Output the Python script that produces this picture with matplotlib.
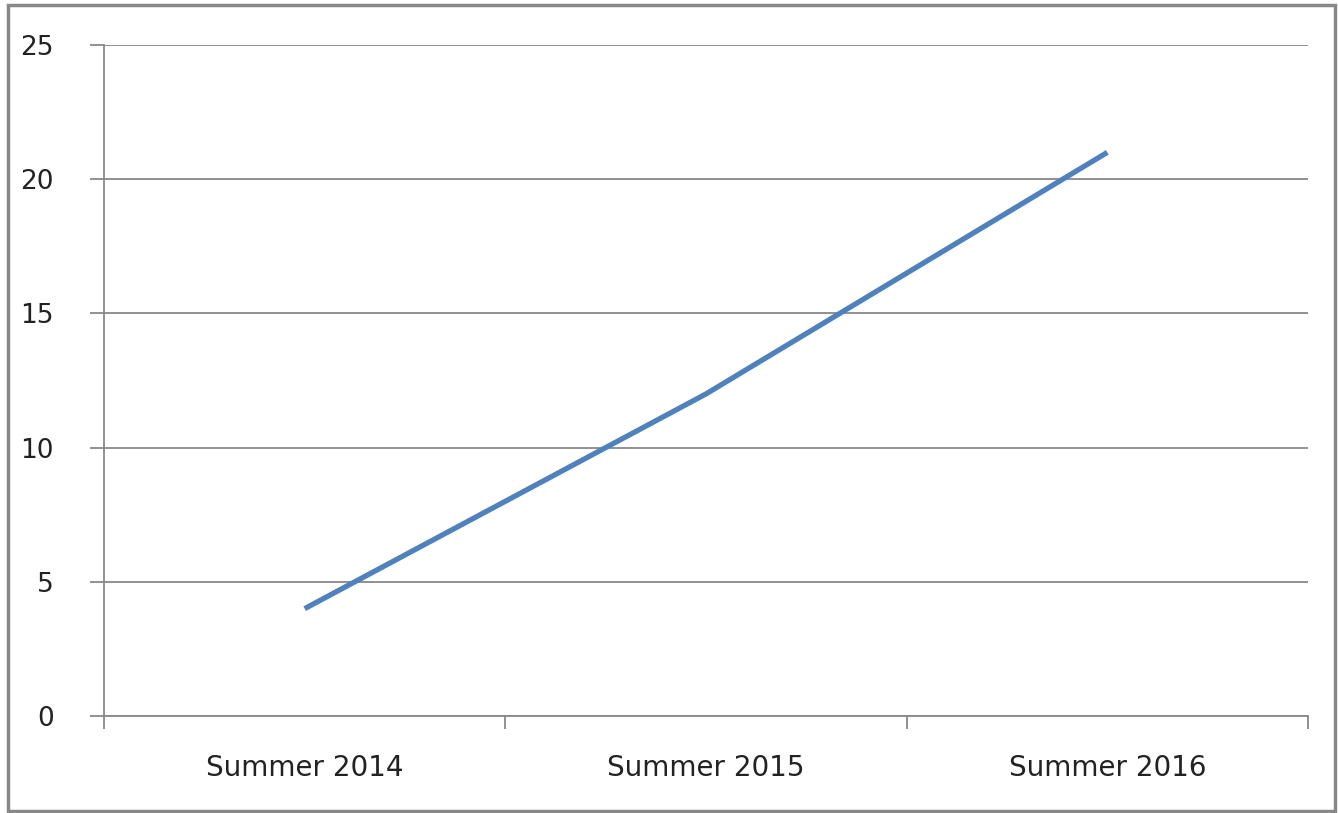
import matplotlib
matplotlib.use('Agg')
import matplotlib.pyplot as plt
from matplotlib.patches import Rectangle

matplotlib.rcParams['font.family'] = ['DejaVu Sans']

categories = ['Summer 2014', 'Summer 2015', 'Summer 2016']
values = [4, 12, 21]
y_ticks = [0, 5, 10, 15, 20, 25]

fig = plt.figure(figsize=(13.38, 8.13), dpi=100)
ax = fig.add_axes([104/1338, 1 - 716/813, 1204/1338, 671/813])

x = range(len(categories))
ax.plot(x, values, color='#4F81BD', linewidth=3.8, solid_capstyle='butt')

ax.set_xlim(-0.5, len(categories) - 0.5)
ax.set_ylim(0, 25)
ax.set_yticks(y_ticks)
ax.set_yticklabels([str(t) for t in y_ticks], fontsize=19, color='#222222')
ax.set_xticks(list(x))
ax.set_xticklabels(categories, fontsize=20, color='#222222')
ax.set_xticks([i - 0.5 for i in range(len(categories) + 1)], minor=True)

ax.tick_params(axis='x', which='major', length=0, pad=27)
ax.tick_params(axis='x', which='minor', length=9, width=1.3, color='#888888', direction='out')
ax.tick_params(axis='y', length=10, width=1.3, color='#888888', direction='out', pad=26)

ax.grid(axis='y', color='#888888', linewidth=1.3)
ax.set_axisbelow(True)
for side in ['top', 'right']:
    ax.spines[side].set_visible(False)
for side in ['left', 'bottom']:
    ax.spines[side].set_color('#888888')
    ax.spines[side].set_linewidth(1.3)

# outer chart border
fig.patches.append(Rectangle((8/1338, 1 - 811/813), 1327/1338, 806/813,
                             transform=fig.transFigure, fill=False,
                             edgecolor='#888888', linewidth=2.5))

plt.savefig('out.png', dpi=100)
